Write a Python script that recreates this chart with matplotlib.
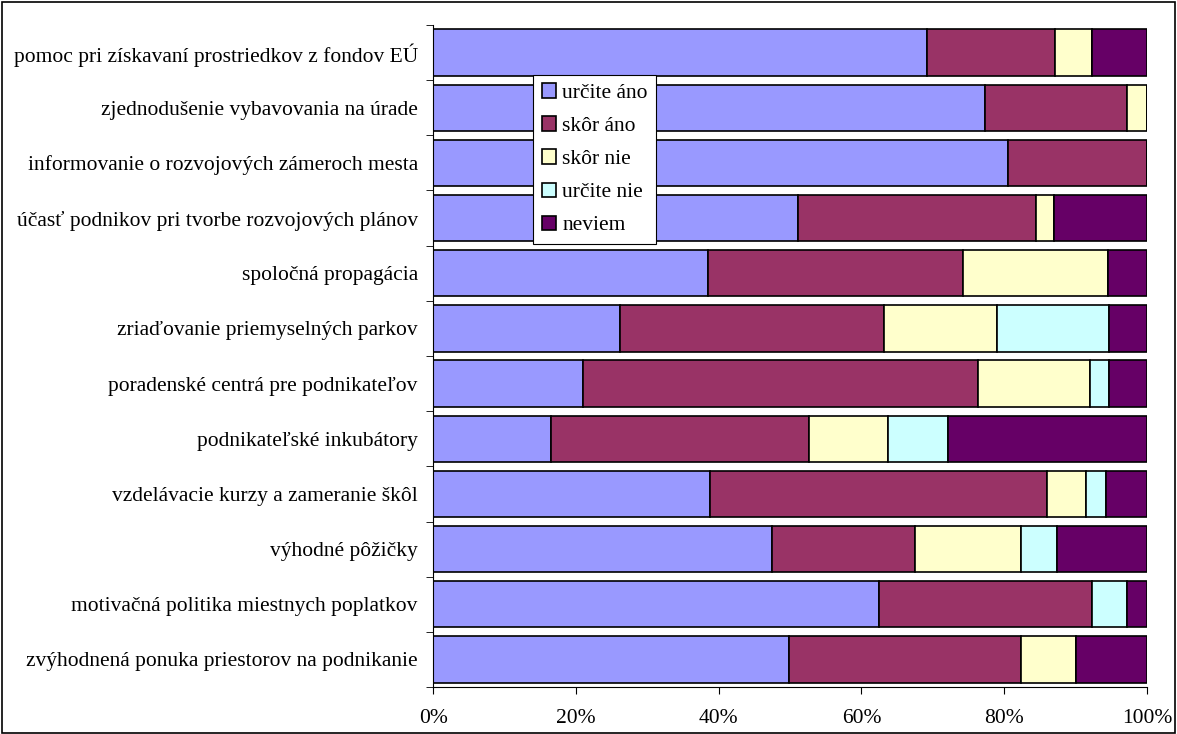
import numpy as np
import matplotlib.pyplot as plt
from matplotlib.patches import Rectangle
from matplotlib.ticker import FuncFormatter

plt.rcParams['font.family'] = ['Liberation Serif', 'DejaVu Serif']

categories = [
    'pomoc pri získavaní prostriedkov z fondov EÚ',
    'zjednodušenie vybavovania na úrade',
    'informovanie o rozvojových zámeroch mesta',
    'účasť podnikov pri tvorbe rozvojových plánov',
    'spoločná propagácia',
    'zriaďovanie priemyselných parkov',
    'poradenské centrá pre podnikateľov',
    'podnikateľské inkubátory',
    'vzdelávacie kurzy a zameranie škôl',
    'výhodné pôžičky',
    'motivačná politika miestnych poplatkov',
    'zvýhodnená ponuka priestorov na podnikanie',
]
series_names = ['určite áno', 'skôr áno', 'skôr nie', 'určite nie', 'neviem']

urcite_ano = [69.2, 77.3, 80.5, 51.1, 38.5, 26.2, 21.0, 16.5, 38.8, 47.5, 62.5, 49.8]
skor_ano   = [17.9, 19.9, 19.5, 33.4, 35.7, 37.0, 55.3, 36.2, 47.2, 20.0, 29.8, 32.6]
skor_nie   = [5.2, 2.8, 0.0, 2.5, 20.3, 15.8, 15.7, 11.0, 5.5, 14.9, 0.0, 7.6]
urcite_nie = [0.0, 0.0, 0.0, 0.0, 0.0, 15.7, 2.7, 8.4, 2.8, 5.0, 4.9, 0.0]
neviem     = [7.7, 0.0, 0.0, 13.0, 5.5, 5.3, 5.3, 27.9, 5.7, 12.6, 2.8, 10.0]

colors = ['#9999FF', '#993366', '#FFFFCC', '#CCFFFF', '#660066']

data = np.array([urcite_ano, skor_ano, skor_nie, urcite_nie, neviem])
data = data / data.sum(axis=0) * 100

fig = plt.figure(figsize=(11.77, 7.34), dpi=100)
fig.patches.append(Rectangle((0.002, 0.002), 0.996, 0.995, transform=fig.transFigure,
                             fill=False, edgecolor='black', linewidth=1.2))
ax = fig.add_axes([0.368, 0.064, 0.6065, 0.902])

y = np.arange(len(categories))
left = np.zeros(len(categories))
for vals, name, col in zip(data, series_names, colors):
    ax.barh(y, vals, left=left, height=0.84, color=col, edgecolor='black',
            linewidth=1.2, label=name)
    left += vals

ax.set_xlim(0, 100)
ax.set_ylim(len(categories) - 0.5, -0.5)
ax.set_xticks(np.arange(0, 101, 20))
ax.xaxis.set_major_formatter(FuncFormatter(lambda v, p: f'{v:.0f}%'))
ax.set_yticks(y)
ax.set_yticklabels(categories)
ax.set_yticks(np.arange(-0.5, len(categories)), minor=True)
ax.tick_params(axis='y', which='major', length=0, pad=11, labelsize=15.5)
ax.tick_params(axis='y', which='minor', length=5, direction='out')
ax.tick_params(axis='x', length=5, direction='out', labelsize=15.5, pad=11)
for s in ['top', 'right']:
    ax.spines[s].set_visible(False)

leg = ax.legend(loc='upper left', bbox_to_anchor=(0.14, 0.925), fontsize=15.5,
                frameon=True, fancybox=False, edgecolor='black', framealpha=1,
                handlelength=0.65, handleheight=0.65, handletextpad=0.3,
                labelspacing=0.62, borderpad=0.4, borderaxespad=0)
leg.get_frame().set_linewidth(0.8)

fig.savefig('out.png', dpi=100)
